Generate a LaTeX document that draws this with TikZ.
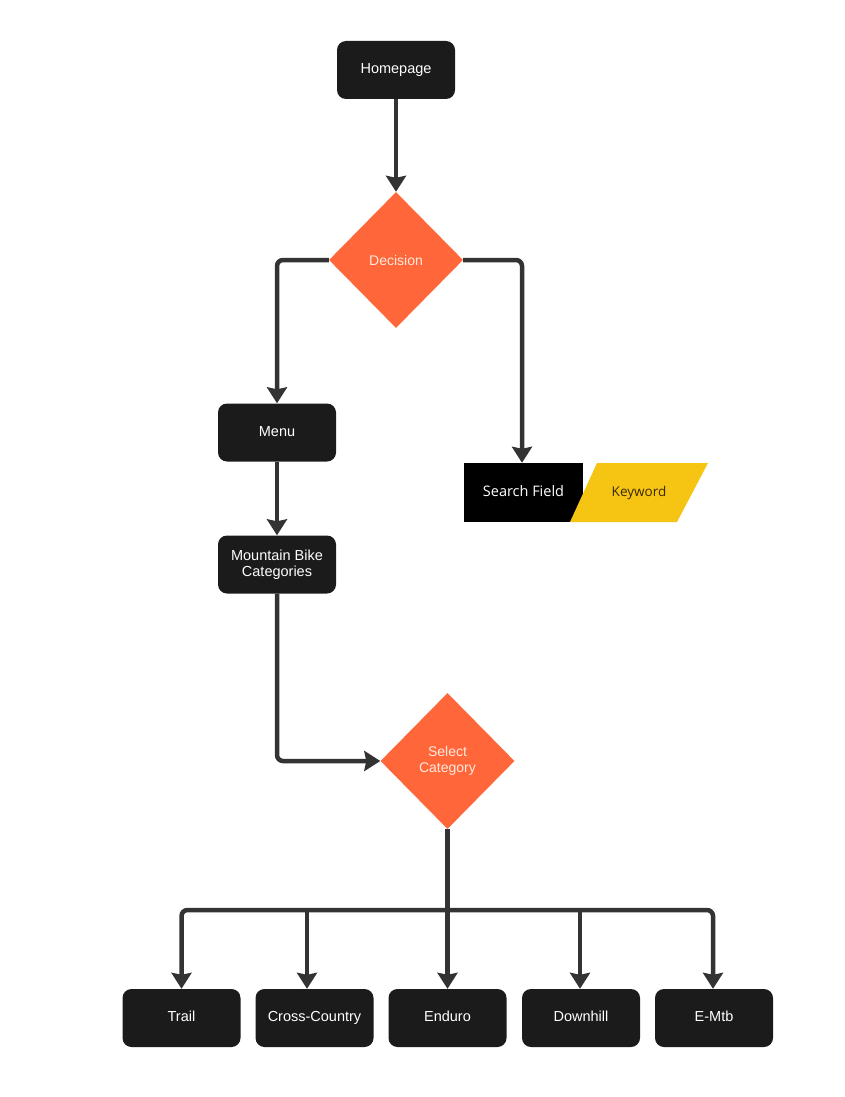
\documentclass[tikz,border=0pt]{standalone}
\usepackage{fontspec}
\setmainfont{Liberation Sans}
\newfontfamily\osans{Open Sans}
\usetikzlibrary{shapes.geometric,arrows.meta,calc}
\definecolor{boxfill}{HTML}{1B1B1B}
\definecolor{linec}{HTML}{333333}
\definecolor{orng}{HTML}{FF673A}
\definecolor{ylw}{HTML}{F6C514}
\definecolor{dtext}{HTML}{FFE9DD}
\definecolor{ktext}{HTML}{3A2A05}
\tikzset{
  boxnode/.style={draw=none, fill=boxfill, rounded corners=9pt, minimum width=118pt, minimum height=58pt, inner sep=0pt, text=white, font=\fontsize{14.5}{16.5}\selectfont, align=center},
  oneline/.style={boxnode, text height=10.5pt, text depth=3pt},
  decnode/.style={diamond, fill=orng, minimum width=134pt, minimum height=136pt, inner sep=0pt, text=dtext, font=\fontsize{14}{16}\selectfont, align=center},
  conn/.style={draw=linec, line width=4.5pt, rounded corners=6pt, -{Stealth[inset=2pt,width=20pt,length=16pt]}},
  plainconn/.style={draw=linec, line width=4.5pt, rounded corners=6pt}
}
\begin{document}
\begin{tikzpicture}[x=1pt,y=-1pt]
\useasboundingbox (0,0) rectangle (844,1097);
\node[oneline] (home) at (396,70) {Homepage};
\node[decnode] (dec) at (396,260) {Decision};
\node[oneline] (menu) at (277,432.5) {Menu};
\node[boxnode] (mbc) at (277,564.5) {Mountain Bike\\Categories};
\node[decnode] (sel) at (447.5,761) {Select\\Category};
% search field and keyword
\node[fill=black, minimum width=119pt, minimum height=59pt, inner sep=0pt, text=white, text height=10.5pt, text depth=3pt, font=\osans\fontsize{14.5}{16.5}\selectfont] (search) at (523.5,492.5) {Search Field};
\fill[ylw] (597,463) -- (708,463) -- (677,522) -- (570,522) -- cycle;
\node[text=ktext, font=\osans\fontsize{13.5}{15.5}\selectfont, inner sep=0pt, text height=10pt, text depth=3pt] (kw) at (639,492.5) {Keyword};
% bottom boxes
\node[oneline] (trail) at (181.5,1018) {Trail};
\node[oneline] (cc) at (314.5,1018) {Cross-Country};
\node[oneline] (end) at (447.5,1018) {Enduro};
\node[oneline] (dh) at (581,1018) {Downhill};
\node[oneline] (emtb) at (714,1018) {E-Mtb};
\coordinate (bus) at (447.5,910);
\coordinate (ccin) at ([xshift=-7.5pt]cc.north);
\coordinate (dhin) at ([xshift=-1pt]dh.north);
\coordinate (emin) at ([xshift=-1pt]emtb.north);
% connectors
\draw[conn] (home.south) -- (dec.north);
\draw[conn] (dec.west) -| (menu.north);
\draw[conn] (dec.east) -| ([xshift=-1.5pt]search.north);
\draw[conn] (menu.south) -- (mbc.north);
\draw[conn] (mbc.south) |- (sel.west);
\draw[conn] (sel.south) -- (end.north);
\draw[conn] (bus) -| (trail.north);
\draw[conn] (bus) -| (emin);
\draw[conn] (ccin |- bus) -- (ccin);
\draw[conn] (dhin |- bus) -- (dhin);
\end{tikzpicture}
\end{document}
